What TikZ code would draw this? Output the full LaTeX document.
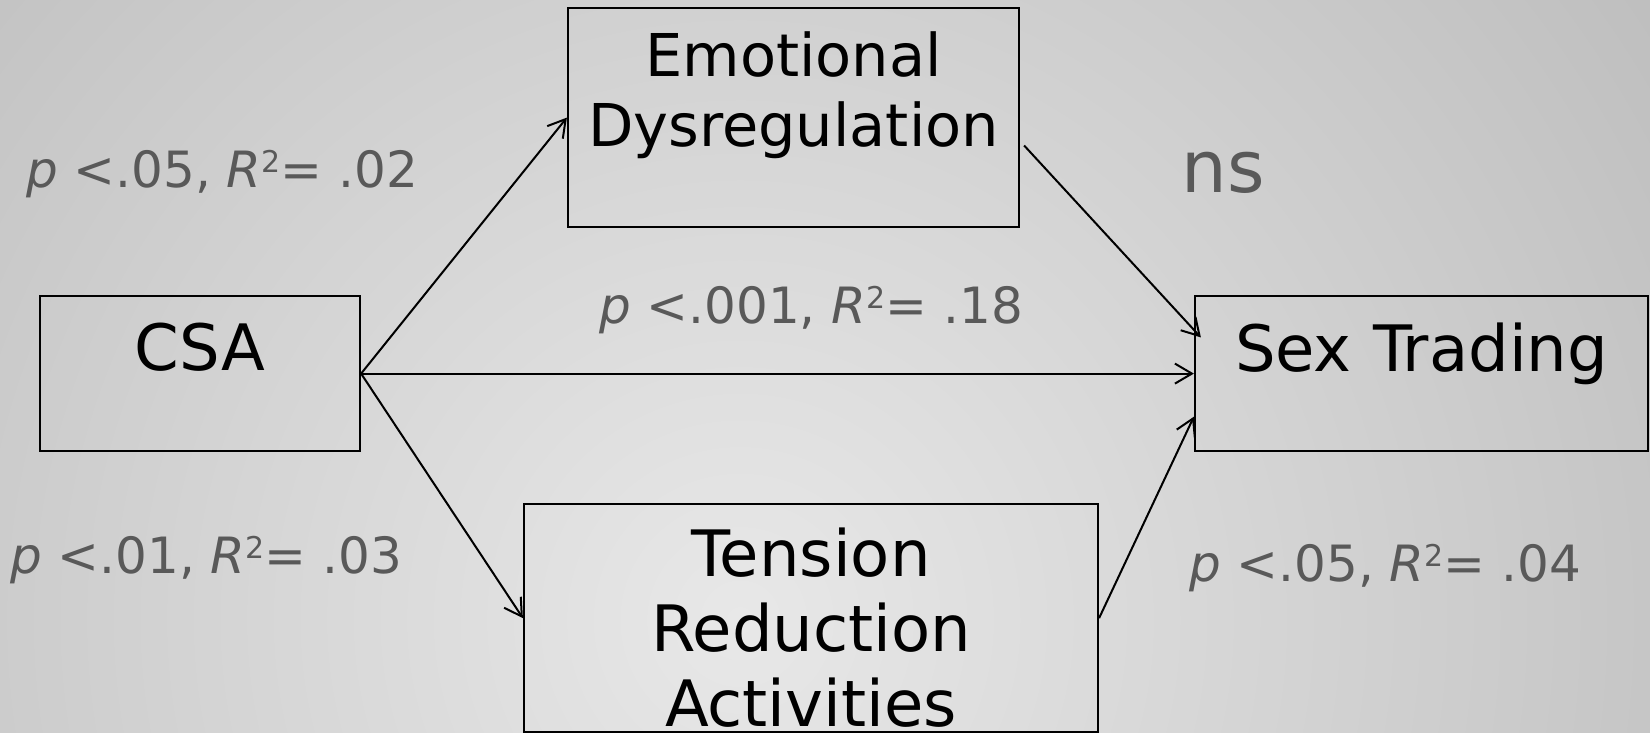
\documentclass[tikz,border=0pt]{standalone}
\usepackage{fontspec}
\setmainfont{DejaVu Sans}
\usetikzlibrary{arrows.meta,calc}
\definecolor{labgray}{HTML}{595959}
\definecolor{bgin}{HTML}{E8E8E8}
\definecolor{bgout}{HTML}{8E8E8E}
\newcommand\supTwo{\raisebox{7.5pt}{\fontsize{15}{15}\selectfont 2}}
\begin{document}
\begin{tikzpicture}[x=0.5pt,y=-0.5pt,
  box/.style={draw=black, line width=1.1pt, rectangle, inner sep=0pt, align=center, text=black, anchor=north},
  arr/.style={draw=black, line width=1pt, -{Straight Barb[length=8.5pt,width=10pt]}},
  lab/.style={text=labgray, font=\fontsize{25}{30}\selectfont, anchor=base, inner sep=0pt}]
\useasboundingbox (0,0) rectangle (1650,733);
\begin{scope}
\clip (0,0) rectangle (1650,733);
\shade[inner color=bgin, outer color=bgout] (740,620) circle (2400);
\end{scope}
% boxes
\node[box, text width=160pt, text height=37.25pt, text depth=40.25pt, font=\fontsize{32}{37}\selectfont] (csa) at (200,295) {CSA};
\node[box, text width=225.5pt, text height=34.35pt, text depth=75.15pt, font=\fontsize{29.5}{35}\selectfont] (ed) at (793.5,7) {Emotional\\Dysregulation};
\node[box, text width=226.5pt, text height=37.5pt, text depth=40pt, font=\fontsize{32}{37}\selectfont] (st) at (1421.5,295) {Sex Trading};
\node[box, text width=287pt, text height=36.3pt, text depth=77.7pt, font=\fontsize{32}{37.5}\selectfont] (tra) at (811,503) {Tension\\Reduction\\Activities};
% connectors
\draw[arr] (csa.east) -- (ed.west);
\draw[arr] (csa.east) -- (st.west);
\draw[arr] (csa.east) -- (tra.west);
\draw[arr] ($(ed.north east)!0.626!(ed.south east)+(4,0)$) -- ($(st.north west)!0.27!(st.south west)+(7,0)$);
\draw[arr] (tra.east) -- ($(st.north west)!0.774!(st.south west)$);
% labels
\node[lab] (l1) at (222,188) {\textit{p} <.05, \textit{R}\supTwo= .02};
\node[lab] (l2) at (811,323) {\textit{p} <.001, \textit{R}\supTwo= .18};
\node[lab] (l3) at (206,573) {\textit{p} <.01, \textit{R}\supTwo= .03};
\node[lab] (l4) at (1385,581) {\textit{p} <.05, \textit{R}\supTwo= .04};
\node[lab, font=\fontsize{36}{40}\selectfont] (ns) at (1223,192) {ns};
\end{tikzpicture}
\end{document}
